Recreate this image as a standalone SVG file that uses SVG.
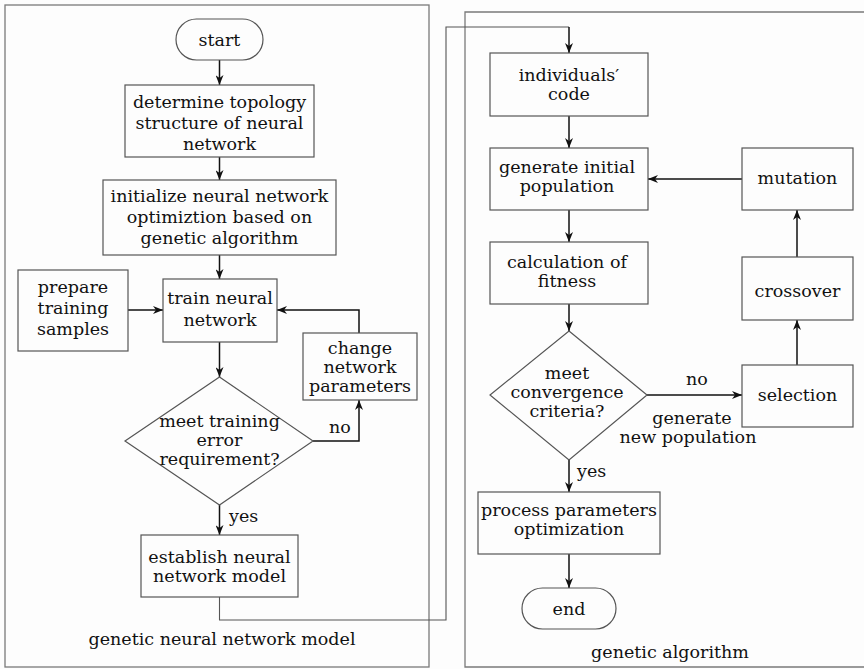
<svg xmlns="http://www.w3.org/2000/svg" width="864" height="669" viewBox="0 0 864 669">
<defs>
<marker id="arr" viewBox="0 0 10 8" refX="10" refY="4" markerWidth="10" markerHeight="8" markerUnits="userSpaceOnUse" orient="auto">
<path d="M0,0 L10,4 L0,8 L3,4 z" fill="#111"/>
</marker>
<style>
.frame{fill:none;stroke:#7a7a7a;stroke-width:1.3}
.box{fill:none;stroke:#555;stroke-width:1.2}
.ln{fill:none;stroke:#111;stroke-width:1.5}
.ln2{fill:none;stroke:#555;stroke-width:1.1}
text{font-family:"DejaVu Serif","Liberation Serif",serif;font-size:17.5px;fill:#111;text-anchor:middle}
.lab{text-anchor:start}
</style>
</defs>
<rect width="864" height="669" fill="#fdfdfd"/>
<g id="frames">
<rect class="frame" x="5" y="5" width="424" height="662"/>
<path class="frame" d="M866,12 H465 V667 H866"/>
<text x="222" y="645">genetic neural network model</text>
<text x="670" y="658">genetic algorithm</text>
</g>
<g id="connectors">
<line class="ln" x1="219.5" y1="60" x2="219.5" y2="85" marker-end="url(#arr)"/>
<line class="ln" x1="219.5" y1="157" x2="219.5" y2="180" marker-end="url(#arr)"/>
<line class="ln" x1="219.5" y1="255" x2="219.5" y2="279" marker-end="url(#arr)"/>
<line class="ln" x1="128" y1="310" x2="163" y2="310" marker-end="url(#arr)"/>
<line class="ln" x1="219.5" y1="342" x2="219.5" y2="377" marker-end="url(#arr)"/>
<path class="ln" d="M313,441 H359 V400" marker-end="url(#arr)"/>
<path class="ln" d="M359,333 V310 H277" marker-end="url(#arr)"/>
<line class="ln" x1="219.5" y1="505" x2="219.5" y2="535" marker-end="url(#arr)"/>
<path class="ln2" d="M219.5,597 V620 H446 V27 H569" />
<line class="ln" x1="569" y1="27" x2="569" y2="53" marker-end="url(#arr)"/>
<line class="ln" x1="569" y1="116" x2="569" y2="148" marker-end="url(#arr)"/>
<line class="ln" x1="742" y1="179" x2="648" y2="179" marker-end="url(#arr)"/>
<line class="ln" x1="569" y1="210" x2="569" y2="242" marker-end="url(#arr)"/>
<line class="ln" x1="569" y1="304" x2="569" y2="331" marker-end="url(#arr)"/>
<line class="ln" x1="647" y1="395" x2="742" y2="395" marker-end="url(#arr)"/>
<line class="ln" x1="797" y1="365" x2="797" y2="320" marker-end="url(#arr)"/>
<line class="ln" x1="797" y1="257" x2="797" y2="210" marker-end="url(#arr)"/>
<line class="ln" x1="569" y1="460" x2="569" y2="492" marker-end="url(#arr)"/>
<line class="ln" x1="569" y1="554" x2="569" y2="588" marker-end="url(#arr)"/>
<text class="lab" x="329" y="433">no</text>
<text class="lab" x="229" y="522">yes</text>
<text x="697" y="385">no</text>
<text x="692" y="424">generate</text>
<text x="688" y="443">new population</text>
<text class="lab" x="577" y="477">yes</text>
</g>
<g id="start">
<rect class="box" x="176" y="19" width="87" height="41" rx="20.5"/>
<text x="219.5" y="46">start</text>
</g>
<g id="determine">
<rect class="box" x="125" y="85" width="189" height="72"/>
<text x="219.5" y="108">determine topology</text>
<text x="219.5" y="129">structure of neural</text>
<text x="219.5" y="150">network</text>
</g>
<g id="initialize">
<rect class="box" x="103" y="180" width="233" height="75"/>
<text x="219.5" y="202">initialize neural network</text>
<text x="219.5" y="223">optimiztion based on</text>
<text x="219.5" y="244">genetic algorithm</text>
</g>
<g id="prepare">
<rect class="box" x="18" y="270" width="110" height="81"/>
<text x="73" y="293">prepare</text>
<text x="73" y="314">training</text>
<text x="73" y="335">samples</text>
</g>
<g id="train">
<rect class="box" x="163" y="279" width="114" height="63"/>
<text x="220" y="304">train neural</text>
<text x="220" y="326">network</text>
</g>
<g id="change">
<rect class="box" x="303" y="333" width="114" height="67"/>
<text x="360" y="354">change</text>
<text x="360" y="373">network</text>
<text x="360" y="392">parameters</text>
</g>
<g id="meet-training">
<polygon class="box" points="219.5,377 313,441 219.5,505 125,441"/>
<text x="219.5" y="427">meet training</text>
<text x="219.5" y="446">error</text>
<text x="219.5" y="465">requirement?</text>
</g>
<g id="establish">
<rect class="box" x="141" y="535" width="157" height="62"/>
<text x="219.5" y="563">establish neural</text>
<text x="219.5" y="582">network model</text>
</g>
<g id="individuals">
<rect class="box" x="490" y="53" width="158" height="63"/>
<text x="569" y="81">individuals′</text>
<text x="569" y="100">code</text>
</g>
<g id="generate-initial">
<rect class="box" x="490" y="148" width="158" height="62"/>
<text x="567" y="173">generate initial</text>
<text x="567" y="192">population</text>
</g>
<g id="mutation">
<rect class="box" x="742" y="148" width="111" height="62"/>
<text x="797.5" y="184">mutation</text>
</g>
<g id="calculation">
<rect class="box" x="490" y="242" width="158" height="62"/>
<text x="567" y="268">calculation of</text>
<text x="567" y="287">fitness</text>
</g>
<g id="crossover">
<rect class="box" x="742" y="257" width="111" height="63"/>
<text x="797.5" y="297">crossover</text>
</g>
<g id="convergence">
<polygon class="box" points="569,331 647,395 569,460 490,395"/>
<text x="567" y="379">meet</text>
<text x="567" y="398">convergence</text>
<text x="567" y="417">criteria?</text>
</g>
<g id="selection">
<rect class="box" x="742" y="365" width="111" height="62"/>
<text x="797.5" y="401">selection</text>
</g>
<g id="process">
<rect class="box" x="478" y="492" width="182" height="62"/>
<text x="569" y="516">process parameters</text>
<text x="569" y="535">optimization</text>
</g>
<g id="end">
<rect class="box" x="522" y="588" width="94" height="41" rx="20.5"/>
<text x="569" y="615">end</text>
</g>
</svg>
